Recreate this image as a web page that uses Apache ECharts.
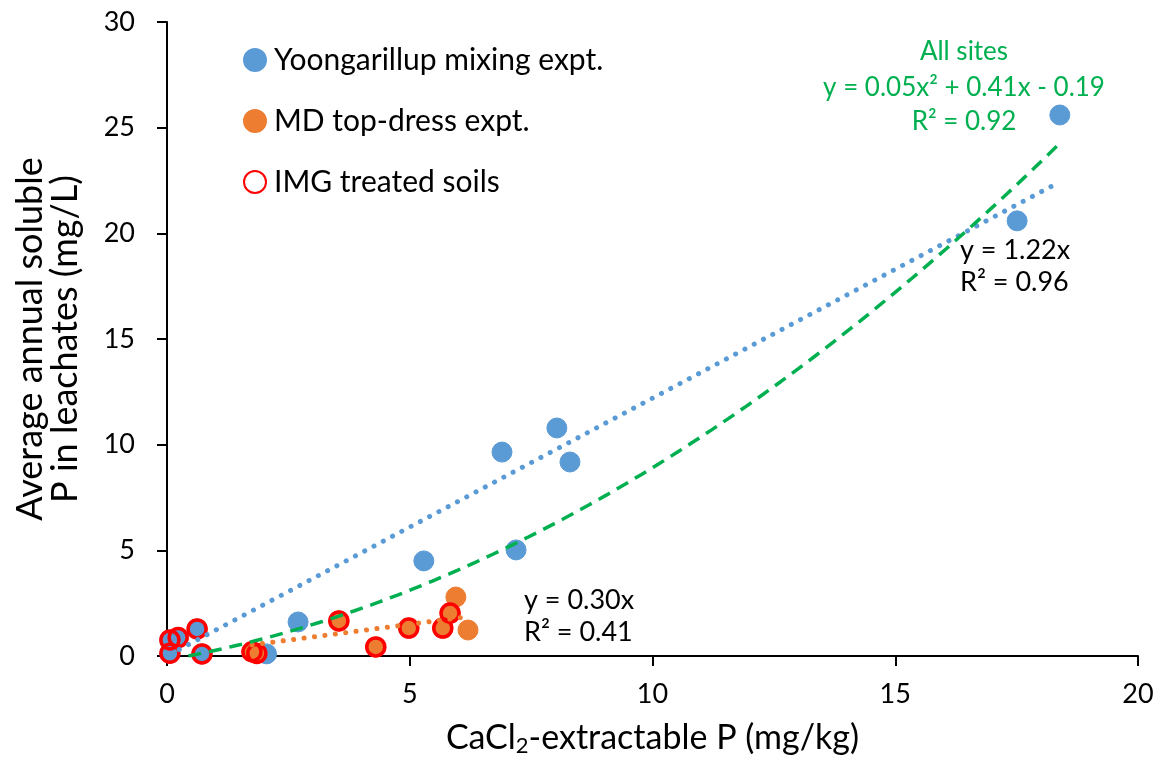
<!DOCTYPE html>
<html>
<head>
<meta charset="utf-8">
<script src="https://cdn.jsdelivr.net/npm/echarts@6/dist/echarts.min.js"></script>
<style>
html,body{margin:0;padding:0;background:#fff;}
#chart{width:1160px;height:758px;}
</style>
</head>
<body>
<div id="chart"></div>
<script>
// ---- Data ----
const yoongX = [18.39, 17.51, 8.03, 6.90, 8.30, 5.29, 7.19, 2.70, 0.62, 0.06, 0.23, 0.06, 0.72, 2.05];
const yoongY = [25.60, 20.59, 10.79, 9.65, 9.18, 4.50, 5.02, 1.61, 1.28, 0.76, 0.87, 0.13, 0.10, 0.10];

const mdX = [5.95, 6.20, 5.83, 5.68, 4.98, 4.30, 3.54, 1.75, 1.85];
const mdY = [2.79, 1.23, 2.03, 1.32, 1.32, 0.43, 1.66, 0.20, 0.12];

const imgX = [0.06, 0.23, 0.62, 0.06, 0.72, 1.75, 1.85, 3.54, 4.30, 4.98, 5.68, 5.83];
const imgY = [0.76, 0.87, 1.28, 0.13, 0.10, 0.20, 0.12, 1.66, 0.43, 1.32, 1.32, 2.03];

// Trendlines as printed on the chart
const yoongSlope = 1.22;             // y = 1.22x
const mdSlope = 0.30;                // y = 0.30x
const allCoef = [0.05, 0.41, -0.19]; // y = 0.05x^2 + 0.41x - 0.19

const xTicks = [0, 5, 10, 15, 20];
const yTicks = [0, 5, 10, 15, 20, 25, 30];

const seriesNames = ['Yoongarillup mixing expt.', 'MD top-dress expt.', 'IMG treated soils'];

// ---- Build ----
const zip = (xs, ys) => xs.map((x, i) => [x, ys[i]]);
const xMinY = Math.min(...yoongX), xMaxY = Math.max(...yoongX);
const xMinM = Math.min(...mdX), xMaxM = Math.max(...mdX);
const xMaxAll = Math.max(...yoongX.concat(mdX));
const yoongTrend = [[xMinY, yoongSlope * xMinY], [xMaxY, yoongSlope * xMaxY]];
const mdTrend = [[xMinM, mdSlope * xMinM], [xMaxM, mdSlope * xMaxM]];
const quad = x => allCoef[0] * x * x + allCoef[1] * x + allCoef[2];
// start where the fitted curve crosses zero (the part below the axis is clipped)
const x0 = (-allCoef[1] + Math.sqrt(allCoef[1] * allCoef[1] - 4 * allCoef[0] * allCoef[2])) / (2 * allCoef[0]);
const allTrend = [];
for (let i = 0; i <= 100; i++) {
  const x = x0 + (xMaxAll - x0) * i / 100;
  allTrend.push([x, quad(x)]);
}

const FONT = 'Lato';
const txt = (x, y, text, color, size, align) => ({
  type: 'text', x: x, y: y, silent: true,
  style: { text: text, fill: color, font: size + 'px ' + FONT, textAlign: align, textVerticalAlign: 'middle' }
});

const chart = echarts.init(document.getElementById('chart'));
chart.setOption({
  animation: false,
  backgroundColor: '#fff',
  textStyle: { fontFamily: FONT },
  grid: { left: 167, right: 22, top: 22, bottom: 102, containLabel: false, outerBoundsMode: 'none' },
  legend: {
    orient: 'vertical',
    left: 238, top: 40,
    itemWidth: 22, itemHeight: 22, itemGap: 31,
    data: seriesNames,
    textStyle: { fontSize: 30, lineHeight: 30, color: '#000', fontFamily: FONT, padding: [0, 0, 0, 3] }
  },
  xAxis: {
    type: 'value', min: xTicks[0], max: xTicks[xTicks.length - 1], interval: 5,
    splitLine: { show: false },
    axisLine: { onZero: false, lineStyle: { color: '#000', width: 2 } },
    axisTick: { show: true, length: 10, lineStyle: { color: '#000', width: 2 } },
    axisLabel: { fontSize: 27, color: '#000', margin: 25, fontFamily: FONT },
    name: 'CaCl{sub|2}-extractable P (mg/kg)',
    nameLocation: 'middle', nameGap: 63,
    nameTextStyle: {
      fontSize: 34, color: '#000', fontFamily: FONT,
      rich: { sub: { fontSize: 22, padding: [16, 0, 0, 0], fontFamily: FONT, color: '#000' } }
    }
  },
  yAxis: {
    type: 'value', min: yTicks[0], max: yTicks[yTicks.length - 1], interval: 5,
    splitLine: { show: false },
    axisLine: { onZero: false, lineStyle: { color: '#000', width: 2 } },
    axisTick: { show: true, length: 10, lineStyle: { color: '#000', width: 2 } },
    axisLabel: { fontSize: 27, color: '#000', margin: 32, fontFamily: FONT },
    name: 'Average annual soluble\nP in leachates (mg/L)',
    nameLocation: 'middle', nameGap: 84, nameRotate: 90,
    nameTextStyle: { fontSize: 36, color: '#000', lineHeight: 35, fontFamily: FONT }
  },
  series: [
    {
      name: seriesNames[0], type: 'scatter', data: zip(yoongX, yoongY),
      symbol: 'circle', symbolSize: 20, z: 2,
      itemStyle: { color: '#5B9BD5', borderColor: '#5B9BD5', borderWidth: 1, opacity: 1 }
    },
    {
      name: seriesNames[1], type: 'scatter', data: zip(mdX, mdY),
      symbol: 'circle', symbolSize: 20, z: 3,
      itemStyle: { color: '#ED7D31', borderColor: '#ED7D31', borderWidth: 1, opacity: 1 }
    },
    {
      name: seriesNames[2], type: 'scatter', data: zip(imgX, imgY),
      symbol: 'circle', symbolSize: 18, z: 4,
      itemStyle: { color: 'rgba(0,0,0,0)', borderColor: '#FF0000', borderWidth: 3.5, opacity: 1 }
    },
    {
      name: 'yoongTrend', type: 'line', data: yoongTrend, showSymbol: false, symbol: 'none', z: 5,
      lineStyle: { color: '#5B9BD5', width: 5, type: [0.1, 10.4], cap: 'round' }, silent: true
    },
    {
      name: 'mdTrend', type: 'line', data: mdTrend, showSymbol: false, symbol: 'none', z: 5,
      lineStyle: { color: '#ED7D31', width: 5, type: [0.1, 10.4], cap: 'round' }, silent: true
    },
    {
      name: 'allTrend', type: 'line', data: allTrend, showSymbol: false, symbol: 'none', z: 6,
      lineStyle: { color: '#00B050', width: 3.5, type: [13, 8] }, silent: true
    }
  ],
  graphic: [
    txt(964, 52, 'All sites', '#00B050', 26, 'center'),
    txt(964, 88, 'y = 0.05x² + 0.41x - 0.19', '#00B050', 26, 'center'),
    txt(964, 122, 'R² = 0.92', '#00B050', 26, 'center'),
    txt(960, 250, 'y = 1.22x', '#000', 27, 'left'),
    txt(960, 282, 'R² = 0.96', '#000', 27, 'left'),
    txt(524, 600, 'y = 0.30x', '#000', 27, 'left'),
    txt(524, 632, 'R² = 0.41', '#000', 27, 'left')
  ]
});
</script>
</body>
</html>
